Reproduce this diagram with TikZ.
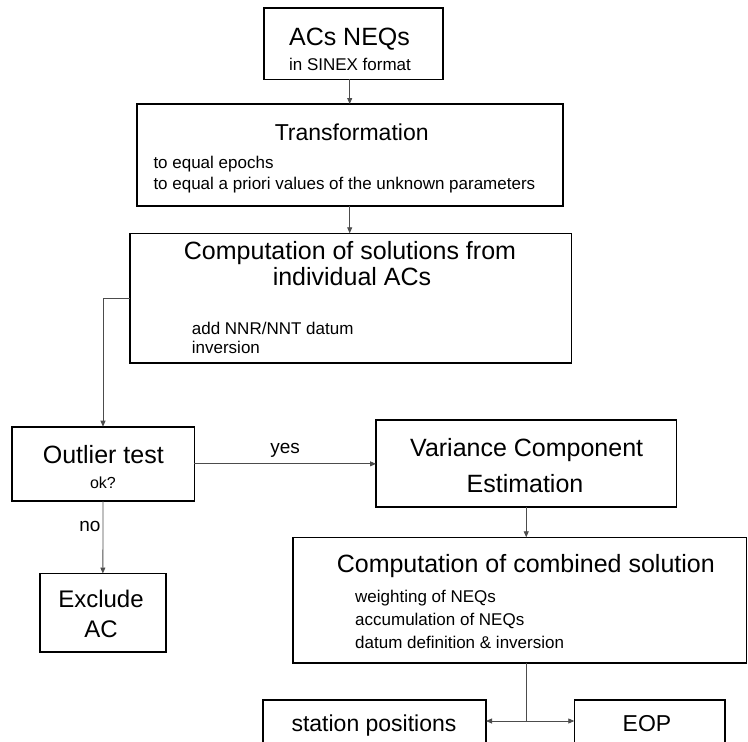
\documentclass[tikz,border=0pt]{standalone}
\usepackage{fontspec}
\setmainfont{Liberation Sans}
\usetikzlibrary{arrows.meta}

\begin{document}
\begin{tikzpicture}[x=1pt,y=-1pt,
  box/.style={draw=black,line width=1.6pt,inner sep=0pt,outer sep=0pt},
  title/.style={inner sep=0pt,anchor=base,font=\fontsize{25}{30}\selectfont},
  midtext/.style={inner sep=0pt,anchor=base,font=\fontsize{23}{28}\selectfont},
  item/.style={inner sep=0pt,anchor=base west,font=\fontsize{17}{20}\selectfont},
  link/.style={draw=black!70,line width=0.8pt},
  >={Triangle[length=6pt,width=5pt]}]
\useasboundingbox (0,0) rectangle (748,742);

% boxes
\node[box,minimum width=179pt,minimum height=71.3pt] (acs) at (353.5,43.65) {};
\node[box,minimum width=426pt,minimum height=101.7pt] (trans) at (349.7,154.85) {};
\node[box,minimum width=441.3pt,minimum height=129.7pt] (indiv) at (350.65,298.15) {};
\node[box,minimum width=182.6pt,minimum height=74.3pt] (outlier) at (103,463.85) {};
\node[box,minimum width=300.5pt,minimum height=86.7pt] (vce) at (526.25,463.35) {};
\node[box,minimum width=125.7pt,minimum height=78.5pt] (excl) at (102.85,612.75) {};
\node[box,minimum width=453.8pt,minimum height=125.4pt] (comb) at (519.6,600) {};
\node[box,minimum width=223.3pt,minimum height=70pt] (stat) at (374.35,735) {};
\node[box,minimum width=150.7pt,minimum height=70pt] (eop) at (649.65,735) {};

% texts
\node[title] (acsT) at (349.5,45) {ACs NEQs};
\node[inner sep=0pt,anchor=base,font=\fontsize{17}{20}\selectfont] (acsS) at (350,70) {in SINEX format};
\node[midtext] (transT) at (351.7,140) {Transformation};
\node[item] (transA) at (153.3,168) {to equal epochs};
\node[item] (transB) at (153.3,189) {to equal a priori values of the unknown parameters};
\node[title] (indivT) at (350,259.3) {Computation of solutions from};
\node[title] (indivU) at (352,285.7) {individual ACs};
\node[item] (indivA) at (191.7,334) {add NNR/NNT datum};
\node[item] (indivB) at (191.7,353) {inversion};
\node[title] (outT) at (103.3,463) {Outlier test};
\node[inner sep=0pt,anchor=base,font=\fontsize{16}{19}\selectfont] (outS) at (103,488) {ok?};
\node[title] (vceT) at (526.7,456.7) {Variance Component};
\node[title] (vceU) at (525,492) {Estimation};
\node[inner sep=0pt,anchor=base,font=\fontsize{24}{28}\selectfont] (exclT) at (101,607) {Exclude};
\node[inner sep=0pt,anchor=base,font=\fontsize{24}{28}\selectfont] (exclU) at (101,637) {AC};
\node[title] (combT) at (525.8,572) {Computation of combined solution};
\node[item] (combA) at (355,602) {weighting of NEQs};
\node[item] (combB) at (355,625) {accumulation of NEQs};
\node[item] (combC) at (355,648) {datum definition \& inversion};
\node[midtext] (statT) at (374,731.7) {station positions};
\node[midtext] (eopT) at (647,731.7) {EOP};

% connectors
\coordinate (jn) at (526.5,721);
\draw[link,->] (trans.north |- acs.south) -- (trans.north);
\draw[link,->] (trans.south) -- (trans.south |- indiv.north);
\draw[link,->] (indiv.west) -| (outlier.north);
\draw[link,->] (outlier.east) -- (vce.west |- outlier.east)
  node[midway,above=6pt,inner sep=0pt,font=\fontsize{19}{22}\selectfont] (yes) {yes};
\draw[link,->] (outlier.south) -- (excl.north)
  node[pos=0.35,left=2pt,inner sep=0pt,font=\fontsize{19}{22}\selectfont] (no) {no};
\draw[link,->] (vce.south) -- (vce.south |- comb.north);
\draw[link] (comb.south -| jn) -- (jn);
\draw[link,<->] (stat.east |- jn) -- (eop.west |- jn);
\end{tikzpicture}
\end{document}
